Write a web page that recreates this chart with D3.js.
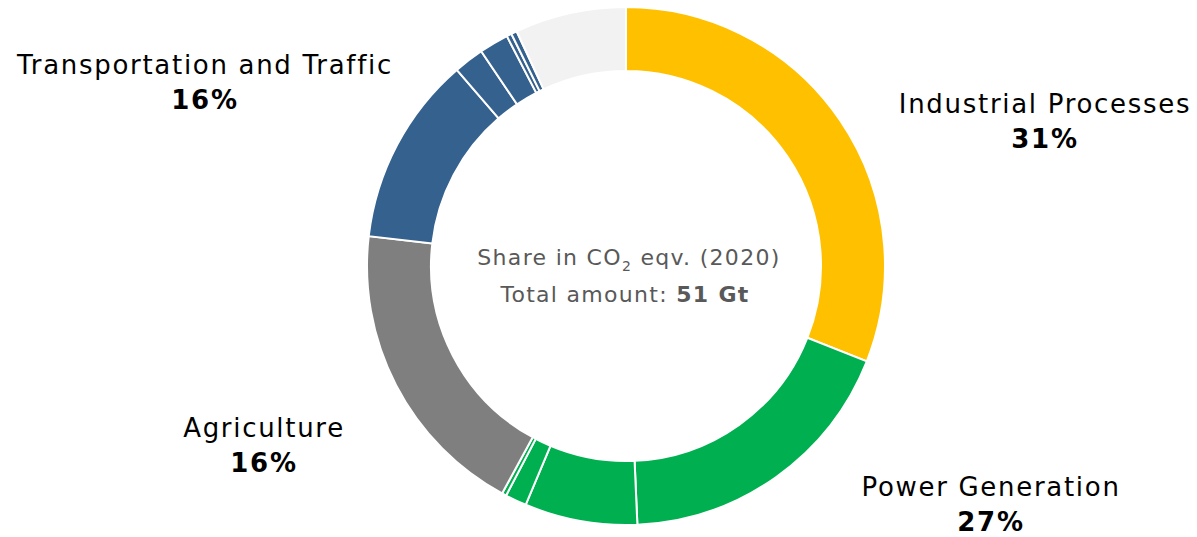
<!DOCTYPE html>
<html>
<head>
<meta charset="utf-8">
<script src="https://cdn.jsdelivr.net/npm/d3@7"></script>
<style>
  html, body { margin: 0; padding: 0; background: #ffffff; }
  svg { display: block; font-family: "DejaVu Sans", Verdana, sans-serif; }
</style>
</head>
<body>
<svg id="chart" width="1197" height="537"></svg>
<script>
// Emission sources, clockwise from 12 o'clock; each group is split into sub-sources
const sliceGroups = [
  "Industrial Processes",
  "Power Generation", "Power Generation", "Power Generation", "Power Generation",
  "Agriculture",
  "Transportation and Traffic", "Transportation and Traffic", "Transportation and Traffic",
  "Transportation and Traffic", "Transportation and Traffic",
  "Other"
];
const sliceValues = [31.0, 18.3, 7.03, 1.33, 0.28, 18.9, 11.83, 1.89, 1.83, 0.31, 0.36, 6.94];

const groupNames  = ["Industrial Processes", "Power Generation", "Agriculture", "Transportation and Traffic", "Other"];
const groupColors = ["#FFC000", "#00B050", "#7F7F7F", "#35618F", "#F2F2F2"];

// Callout labels
const labelNames   = ["Industrial Processes", "Power Generation", "Agriculture", "Transportation and Traffic"];
const labelShares  = ["31%", "27%", "16%", "16%"];
const labelX       = [1045, 991, 264, 205];
const labelY       = [113, 496, 437, 74];

const totalAmount = "51 Gt";

const cx = 626, cy = 266, rOuter = 259, rInner = 195;

const svg = d3.select("#chart");
const color = d3.scaleOrdinal().domain(groupNames).range(groupColors);

const pie = d3.pie().sort(null).value(d => d.value);
const arc = d3.arc().innerRadius(rInner).outerRadius(rOuter);

const slices = sliceValues.map((v, i) => ({ group: sliceGroups[i], value: v }));

const g = svg.append("g").attr("transform", `translate(${cx},${cy})`);
g.selectAll("path")
  .data(pie(slices))
  .join("path")
  .attr("d", arc)
  .attr("fill", d => color(d.data.group))
  .attr("stroke", "#ffffff")
  .attr("stroke-width", 2)
  .attr("stroke-linejoin", "miter");

// Centre caption
const cap = g.append("g").attr("fill", "#595959").attr("font-size", 22)
  .attr("letter-spacing", 1.3).attr("text-anchor", "middle");
const l1 = cap.append("text").attr("x", 3).attr("y", -1);
l1.append("tspan").text("Share in CO");
l1.append("tspan").text("2").attr("font-size", 14).attr("dy", 6);
l1.append("tspan").text(" eqv. (2020)").attr("dy", -6);
const l2 = cap.append("text").attr("x", -1).attr("y", 36);
l2.append("tspan").text("Total amount: ");
l2.append("tspan").text(totalAmount).attr("font-weight", "bold");

// Group labels with their share
const lab = svg.append("g").attr("text-anchor", "middle").attr("fill", "#000000")
  .attr("font-size", 26).attr("letter-spacing", 1.7);
labelNames.forEach((name, i) => {
  lab.append("text").attr("x", labelX[i]).attr("y", labelY[i]).text(name);
  lab.append("text").attr("x", labelX[i]).attr("y", labelY[i] + 35)
    .attr("font-weight", "bold").text(labelShares[i]);
});
</script>
</body>
</html>
